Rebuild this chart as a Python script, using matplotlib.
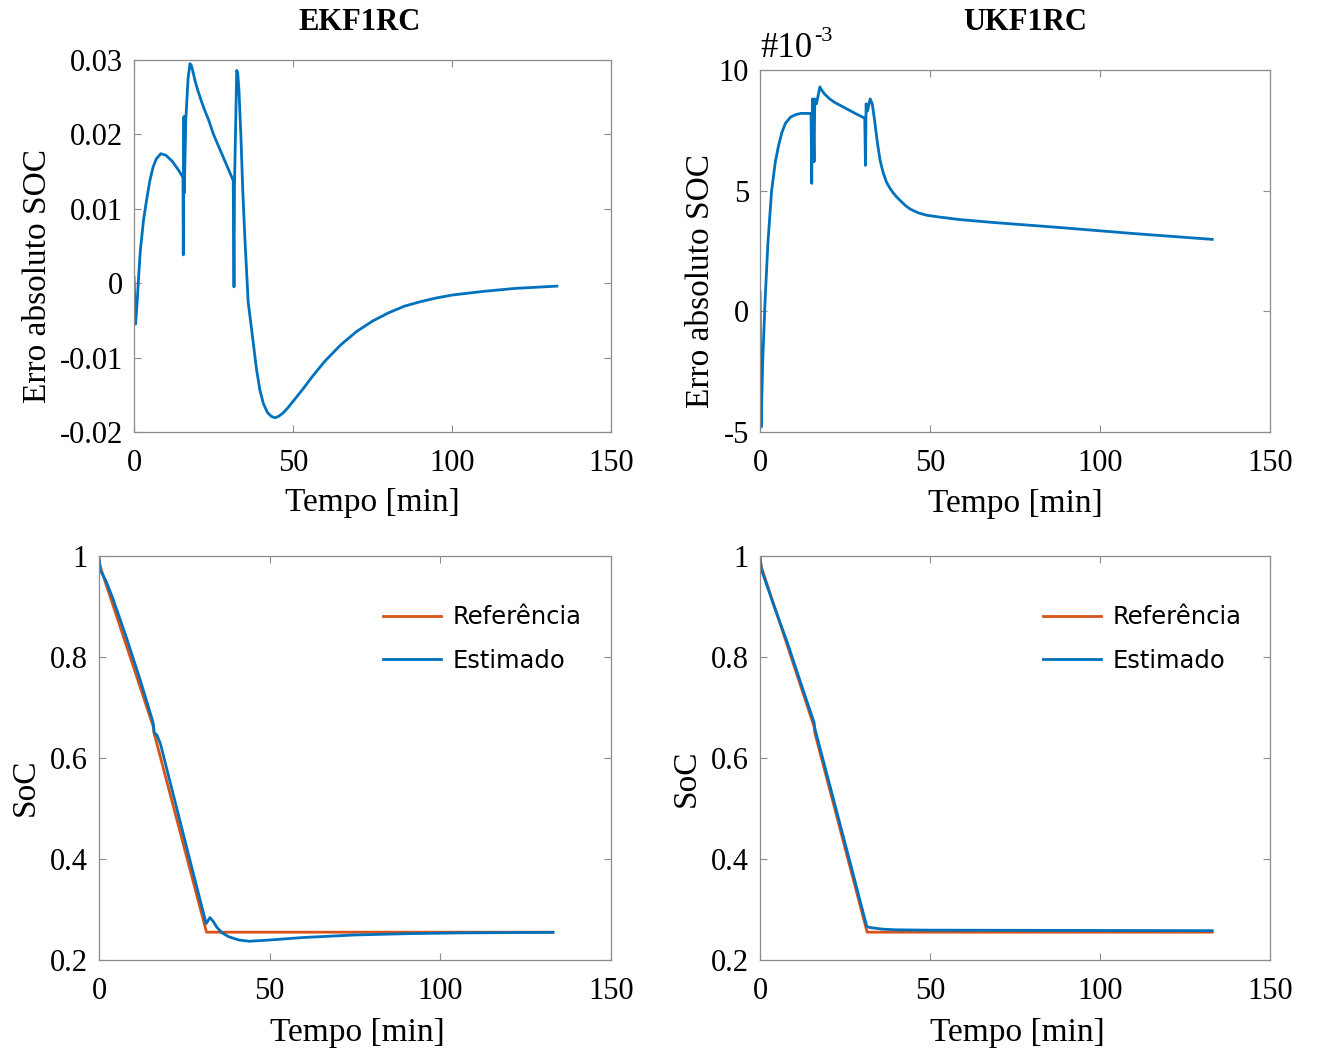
import numpy as np
import matplotlib
matplotlib.use('Agg')
import matplotlib.pyplot as plt
from matplotlib.ticker import FuncFormatter

# cores padrao do MATLAB
azul = '#0072BD'
laranja = '#D95319'

# erro absoluto SOC - EKF (t em min)
t_ekf = [0, 0.5, 1.0, 1.5, 2, 3, 4, 5, 6, 7, 8.4, 10, 12, 14, 15.0, 15.4, 15.5, 15.6, 15.7,
         15.8, 16.3, 17.0, 17.6, 18.0, 18.5, 19.2, 20, 21, 22, 23.5, 25, 27, 29, 31.2,
         31.45, 31.6, 32.3, 32.6, 33.0, 33.6, 34.2, 34.9, 35.9, 37.5, 38.5, 39.6, 40.7,
         42, 43.2, 44.3, 45.5, 47, 48.5, 50, 53, 56, 60, 65, 70, 75, 80, 85, 90, 95, 100,
         110, 120, 133]
e_ekf = [0.0008, -0.0055, -0.0025, 0.0012, 0.0044, 0.0085, 0.0113, 0.0138, 0.0156, 0.0167,
         0.0174, 0.0172, 0.0164, 0.0152, 0.0145, 0.0142, 0.0038, 0.0140, 0.0224,
         0.0121, 0.0220, 0.0275, 0.0295, 0.0293, 0.0285, 0.0272, 0.0260, 0.0247, 0.0235,
         0.0219, 0.0200, 0.0180, 0.0160, 0.0138,
         -0.0005, 0.0130, 0.0286, 0.0283, 0.0260, 0.0200, 0.0125, 0.0058, -0.0025,
         -0.0080, -0.0115, -0.0144, -0.0162, -0.0174, -0.0179, -0.0181, -0.0179,
         -0.0174, -0.0167, -0.0159, -0.0143, -0.0126, -0.0105, -0.0083, -0.0065,
         -0.0051, -0.0040, -0.0031, -0.0025, -0.0020, -0.0016, -0.0011, -0.0007, -0.0004]

# erro absoluto SOC - UKF (x 10^-3)
t_ukf = [0, 0.3, 0.8, 1.5, 2.3, 3.4, 4.5, 5.5, 6.4, 7.5, 9, 10.5, 12, 14.5, 15.0, 15.2,
         15.4, 15.6, 15.9, 16.1, 16.6, 17.6, 18.2, 19, 20.5, 22, 24, 26, 28, 30.8, 31.0,
         31.2, 31.6, 32.4, 33.0, 33.7, 34.5, 35.3, 36.2, 37.2, 38.2, 39.2, 40.3, 41.5,
         42.8, 44.1, 46.5, 49, 53, 58.8, 68.6, 88.2, 110, 133]
e_ukf = [0.8, -4.8, -2.0, 0.5, 2.8, 5.0, 6.2, 6.9, 7.4, 7.8, 8.05, 8.15, 8.2, 8.2, 8.2,
         5.3, 8.8, 8.4, 6.2, 8.8, 8.6, 9.3, 9.15, 9.0, 8.8, 8.65, 8.5, 8.35, 8.2, 8.0,
         6.05, 8.6, 8.3, 8.8, 8.6, 7.9, 7.0, 6.26, 5.75, 5.35, 5.1, 4.9, 4.72, 4.55,
         4.38, 4.24, 4.08, 3.98, 3.9, 3.80, 3.68, 3.47, 3.22, 2.98]

# SoC de referencia
t_ref = [0, 0.4, 15.9, 16.1, 31.5, 133]
soc_ref = [0.995, 0.978, 0.662, 0.650, 0.255, 0.255]

# SoC estimado EKF
t_est1 = [0, 0.4, 2, 4, 8, 12, 15.6, 15.9, 16.2, 17, 18, 22, 27, 31.4, 32.5, 33.5, 34.5,
          36, 38, 41, 44, 50, 60, 75, 90, 105, 120, 133]
soc_est1 = [0.995, 0.972, 0.951, 0.917, 0.839, 0.756, 0.676, 0.668, 0.650, 0.645, 0.628,
            0.521, 0.388, 0.272, 0.284, 0.276, 0.265, 0.254, 0.246, 0.2395, 0.237, 0.2395,
            0.2445, 0.2495, 0.252, 0.2535, 0.2542, 0.2546]

# SoC estimado UKF
t_est2 = [0, 0.4, 4, 8, 12, 15.9, 16.1, 18, 22, 27, 31.4, 32.5, 36, 40, 50, 133]
soc_est2 = [0.996, 0.973, 0.903, 0.829, 0.748, 0.670, 0.659, 0.610, 0.508, 0.380, 0.266,
            0.264, 0.261, 0.2597, 0.259, 0.258]

serif = 'Liberation Serif'
fs_tick = 22
fs_lab = 24

fig = plt.figure(figsize=(13.36, 10.52), dpi=100)

def fmt(v, pos):
    return '%g' % round(v, 6)

def estilo(ax, xl, yl, xlab_pos, ylab_pos):
    ax.set_xlim(0, 150)
    ax.set_xticks([0, 50, 100, 150])
    ax.tick_params(direction='in', top=True, right=True, length=5, width=0.8,
                   colors='#8c8c8c', labelcolor='black', labelsize=fs_tick)
    ax.tick_params(axis='x', pad=12)
    ax.tick_params(axis='y', pad=8)
    ax.xaxis.set_major_formatter(FuncFormatter(fmt))
    ax.yaxis.set_major_formatter(FuncFormatter(fmt))
    for lab in ax.get_xticklabels() + ax.get_yticklabels():
        lab.set_fontfamily(serif)
    for s in ax.spines.values():
        s.set_color('#8c8c8c')
        s.set_linewidth(0.9)
    ax.set_xlabel(xl, fontsize=fs_lab, family=serif)
    ax.set_ylabel(yl, fontsize=fs_lab, family=serif)
    ax.xaxis.set_label_coords(*xlab_pos)
    ax.yaxis.set_label_coords(*ylab_pos)

# EKF erro
ax1 = fig.add_axes([0.1003, 0.5894, 0.3570, 0.3536])
ax1.plot(t_ekf, e_ekf, color=azul, lw=2)
ax1.set_ylim(-0.02, 0.03)
ax1.set_yticks([-0.02, -0.01, 0, 0.01, 0.02, 0.03])
estilo(ax1, 'Tempo [min]', 'Erro absoluto SOC', (0.5, -0.15), (-0.17, 0.42))

# UKF erro
ax2 = fig.add_axes([0.5689, 0.5894, 0.3817, 0.3441])
ax2.plot(t_ukf, e_ukf, color=azul, lw=2)
ax2.set_ylim(-5, 10)
ax2.set_yticks([-5, 0, 5, 10])
estilo(ax2, 'Tempo [min]', 'Erro absoluto SOC', (0.5, -0.155), (-0.087, 0.417))
# multiplicador estilo MATLAB
ax2.text(0.0, 1.015, '#10', transform=ax2.transAxes, fontsize=25,
         family=serif, ha='left', va='bottom')
ax2.text(0.106, 1.065, '-3', transform=ax2.transAxes, fontsize=16,
         family=serif, ha='left', va='bottom')

# SoC EKF
ax3 = fig.add_axes([0.0741, 0.0875, 0.3832, 0.3840])
ax3.plot(t_ref, soc_ref, color=laranja, lw=2, label='Referência')
ax3.plot(t_est1, soc_est1, color=azul, lw=2, label='Estimado')
ax3.set_ylim(0.2, 1)
ax3.set_yticks([0.2, 0.4, 0.6, 0.8, 1])
estilo(ax3, 'Tempo [min]', 'SoC', (0.505, -0.143), (-0.114, 0.428))

# SoC UKF
ax4 = fig.add_axes([0.5689, 0.0875, 0.3817, 0.3840])
ax4.plot(t_ref, soc_ref, color=laranja, lw=2, label='Referência')
ax4.plot(t_est2, soc_est2, color=azul, lw=2, label='Estimado')
ax4.set_ylim(0.2, 1)
ax4.set_yticks([0.2, 0.4, 0.6, 0.8, 1])
estilo(ax4, 'Tempo [min]', 'SoC', (0.504, -0.143), (-0.114, 0.45))

for ax in (ax3, ax4):
    ax.legend(loc='upper left', bbox_to_anchor=(0.555, 0.878), frameon=False,
              prop={'family': 'DejaVu Sans', 'size': 17.5}, handlelength=2.4,
              handletextpad=0.45, labelspacing=0.8, borderpad=0, borderaxespad=0)

fig.text(360 / 1336, 1 - 22 / 1052, 'EKF1RC', fontsize=22, family=serif,
         fontweight='bold', ha='center', va='center')
fig.text(1025 / 1336, 1 - 22 / 1052, 'UKF1RC', fontsize=22, family=serif,
         fontweight='bold', ha='center', va='center')

fig.savefig('out.png', dpi=100)
